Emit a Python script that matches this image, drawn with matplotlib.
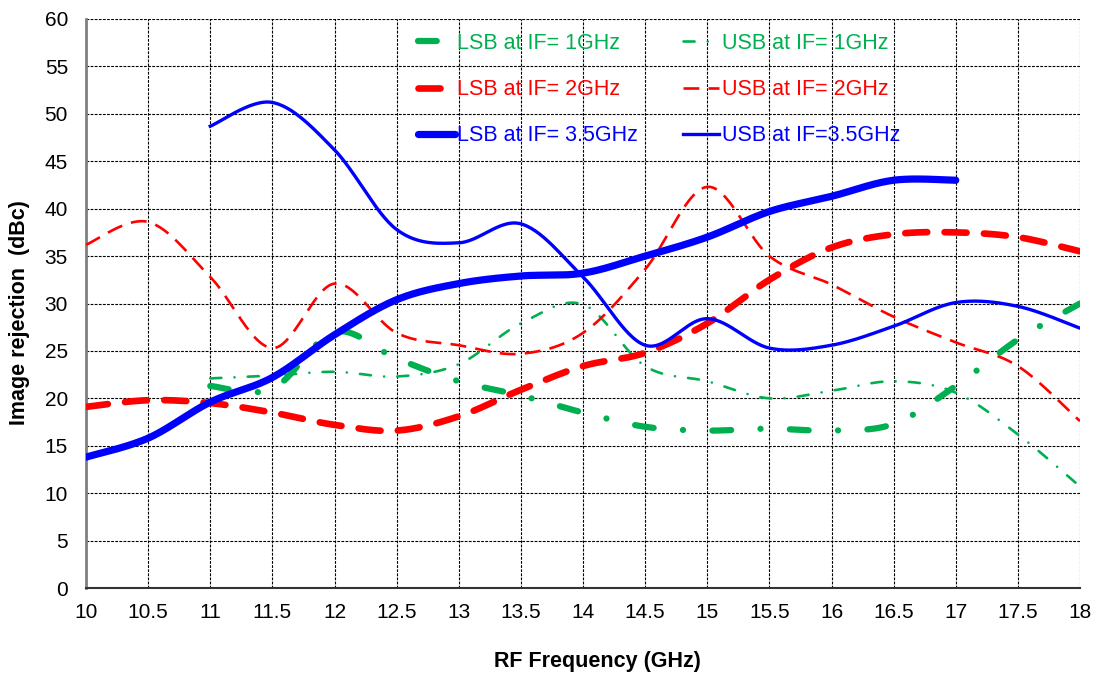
import numpy as np
import matplotlib
matplotlib.use("Agg")
import matplotlib.pyplot as plt

plt.rcParams['font.family'] = ['Liberation Sans', 'DejaVu Sans']

# ---- data ----
freq_full = [10, 10.5, 11, 11.5, 12, 12.5, 13, 13.5, 14, 14.5, 15, 15.5, 16, 16.5, 17, 17.5, 18]
freq_11_18 = [11, 11.5, 12, 12.5, 13, 13.5, 14, 14.5, 15, 15.5, 16, 16.5, 17, 17.5, 18]
freq_10_17 = [10, 10.5, 11, 11.5, 12, 12.5, 13, 13.5, 14, 14.5, 15, 15.5, 16, 16.5, 17]

lsb_if1 = [21.3, 21.0, 27.0, 24.2, 21.8, 20.3, 18.5, 17.0, 16.6, 16.8, 16.6, 17.3, 21.3, 26.2, 30.0]
usb_if1 = [22.1, 22.4, 22.8, 22.3, 23.6, 27.9, 29.9, 23.4, 21.8, 20.0, 20.8, 21.8, 20.6, 16.2, 10.7]
lsb_if2 = [19.1, 19.8, 19.5, 18.5, 17.2, 16.6, 18.1, 20.9, 23.4, 24.8, 27.9, 32.5, 35.9, 37.3, 37.5, 37.0, 35.5]
usb_if2 = [36.2, 38.6, 32.8, 25.3, 32.1, 26.9, 25.6, 24.7, 26.9, 33.6, 42.3, 35.0, 32.0, 28.6, 25.9, 23.4, 17.6]
lsb_if35 = [13.8, 15.8, 19.6, 22.2, 26.7, 30.4, 32.1, 32.9, 33.2, 35.0, 37.0, 39.7, 41.3, 43.0, 43.0]
usb_if35 = [48.7, 51.2, 46.2, 37.8, 36.4, 38.4, 32.8, 25.6, 28.4, 25.3, 25.6, 27.6, 30.1, 29.7, 27.4]

labels = ["LSB at IF= 1GHz", "USB at IF= 1GHz",
          "LSB at IF= 2GHz", "USB at IF= 2GHz",
          "LSB at IF= 3.5GHz", "USB at IF=3.5GHz"]
x_ticks = [10, 10.5, 11, 11.5, 12, 12.5, 13, 13.5, 14, 14.5, 15, 15.5, 16, 16.5, 17, 17.5, 18]
x_ticklabels = ["10", "10.5", "11", "11.5", "12", "12.5", "13", "13.5", "14", "14.5",
                "15", "15.5", "16", "16.5", "17", "17.5", "18"]
y_ticks = [0, 5, 10, 15, 20, 25, 30, 35, 40, 45, 50, 55, 60]

GREEN = "#00B050"
RED = "#FF0000"
BLUE = "#0000FF"


def smooth(xs, ys, n=30):
    """Excel-like smoothed line (uniform Catmull-Rom / Bezier with 1/6 tension)."""
    P = np.column_stack([xs, ys]).astype(float)
    ext = np.vstack([P[0], P, P[-1]])
    out = []
    t = np.linspace(0, 1, n, endpoint=False)
    for i in range(1, len(ext) - 2):
        p0, p1, p2, p3 = ext[i - 1], ext[i], ext[i + 1], ext[i + 2]
        c1 = p1 + (p2 - p0) / 6.0
        c2 = p2 - (p3 - p1) / 6.0
        tt = t[:, None]
        seg = ((1 - tt) ** 3) * p1 + 3 * ((1 - tt) ** 2) * tt * c1 + 3 * (1 - tt) * tt ** 2 * c2 + tt ** 3 * p2
        out.append(seg)
    out.append(P[-1][None, :])
    arr = np.vstack(out)
    return arr[:, 0], arr[:, 1]


fig = plt.figure(figsize=(11, 6.73), dpi=100)
ax = fig.add_axes([86 / 1100, 1 - 588 / 673, (1080 - 86) / 1100, (588 - 19) / 673])

series = [
    (freq_11_18, lsb_if1, dict(color=GREEN, lw=4.5, ls=(0, (3.0, 4.7, 0.01, 4.7)), dash_capstyle='round', zorder=3)),
    (freq_11_18, usb_if1, dict(color=GREEN, lw=1.9, ls=(0, (4.2, 5.0, 0.01, 5.0)), dash_capstyle='round', zorder=3)),
    (freq_full, lsb_if2, dict(color=RED, lw=4.8, ls=(0, (3.3, 2.6)), dash_capstyle='round', zorder=4)),
    (freq_full, usb_if2, dict(color=RED, lw=1.9, ls=(0, (6.0, 3.5)), dash_capstyle='butt', zorder=4)),
    (freq_10_17, lsb_if35, dict(color=BLUE, lw=5.2, ls='-', solid_capstyle='round', zorder=5)),
    (freq_11_18, usb_if35, dict(color=BLUE, lw=2.4, ls='-', zorder=5)),
]

handles = []
for (xs, ys, st), lab in zip(series, labels):
    sx, sy = smooth(xs, ys)
    h, = ax.plot(sx, sy, label=lab, **st)
    handles.append(h)

ax.set_xlim(10, 18)
ax.set_ylim(0, 60)
ax.set_xticks(x_ticks)
ax.set_xticklabels(x_ticklabels)
ax.set_yticks(y_ticks)
ax.tick_params(axis='both', length=0, labelsize=15)
ax.tick_params(axis='x', pad=11)
ax.tick_params(axis='y', pad=13)

ax.grid(True, color='black', lw=0.8, ls=(0, (2.5, 1.2)))
ax.set_axisbelow(True)
for s in ['top', 'right']:
    ax.spines[s].set_visible(False)
ax.spines['left'].set_color('#808080')
ax.spines['left'].set_linewidth(2.0)
ax.spines['bottom'].set_color('#333333')
ax.spines['bottom'].set_linewidth(1.5)

# legend: columns LSB | USB
order = [0, 2, 4, 1, 3, 5]
leg = ax.legend([handles[i] for i in order], [labels[i] for i in order],
                ncol=2, frameon=False, loc='upper left',
                bbox_to_anchor=(418 / 1100, 1 - 33 / 673), bbox_transform=fig.transFigure,
                fontsize=15.5, handlelength=1.7, handletextpad=0.1,
                columnspacing=2.1, labelspacing=1.17, borderpad=0, borderaxespad=0)
cols = [GREEN, RED, BLUE, GREEN, RED, BLUE]
for txt, c in zip(leg.get_texts(), cols):
    txt.set_color(c)

fig.text(597 / 1100, 1 - 661 / 673, "RF Frequency (GHz)", ha='center', va='center',
         fontsize=15.5, fontweight='bold')
fig.text(20 / 1100, 1 - 313 / 673, "Image rejection  (dBc)", ha='center', va='center',
         rotation=90, fontsize=15.5, fontweight='bold')

fig.savefig("out.png", dpi=100)
